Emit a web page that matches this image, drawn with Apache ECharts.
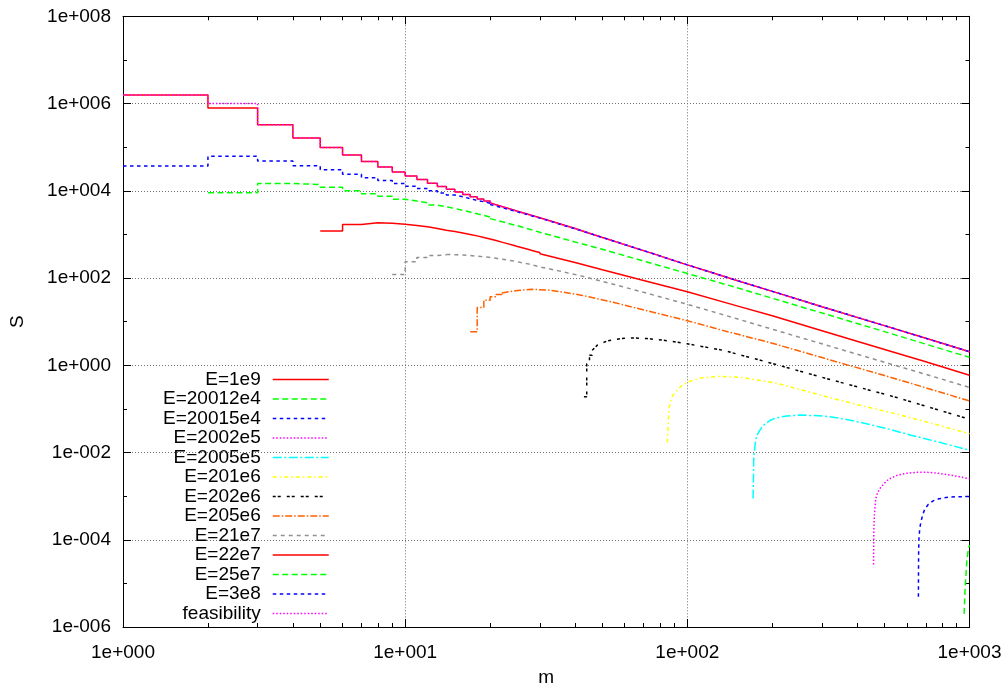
<!DOCTYPE html>
<html>
<head>
<meta charset="utf-8">
<script src="https://cdn.jsdelivr.net/npm/echarts@6/dist/echarts.min.js"></script>
<style>
html, body { margin: 0; padding: 0; background: #ffffff; }
#chart { width: 1008px; height: 692px; }
</style>
</head>
<body>
<div id="chart"></div>
<script>
// ---------- tick labels ----------
const xTickValues = [1, 10, 100, 1000];
const xTickLabels = ['1e+000', '1e+001', '1e+002', '1e+003'];
const xMinorTicks = [2, 3, 4, 5, 6, 7, 8, 9, 20, 30, 40, 50, 60, 70, 80, 90, 200, 300, 400, 500, 600, 700, 800, 900];
const yTickValues = [1e-6, 1e-4, 1e-2, 1, 1e2, 1e4, 1e6, 1e8];
const yTickLabels = ['1e-006', '1e-004', '1e-002', '1e+000', '1e+002', '1e+004', '1e+006', '1e+008'];

// ---------- series names (legend order) ----------
const seriesNames = ['E=1e9', 'E=20012e4', 'E=20015e4', 'E=2002e5', 'E=2005e5', 'E=201e6',
  'E=202e6', 'E=205e6', 'E=21e7', 'E=22e7', 'E=25e7', 'E=3e8', 'feasibility'];

// ---------- data: [m, S] ----------
const e1e9Steps = [[1,1.57e6],[2,7.9e5],[3,3.27e5],[4,1.63e5],[5,9.8e4],[6,6.6e4],[7,4.7e4],[8,3.5e4],[9,2.7e4],[10,2.19e4],[11,1.81e4],[12,1.49e4],[13,1.25e4],[14,1.08e4],[15,9.4e3],[16,8.2e3],[17,7.3e3],[18,6.5e3],[19,5.8e3],[20,5.25e3]];
const e1e9Curve = [[20,5.25e3],[25,3.4e3],[30,2.4e3],[40,1.36e3],[50,850],[70,425],[100,200],[150,88],[200,49.5],[300,22],[500,8.1],[700,4.15],[1000,2.05]];

const e20012e4Curve = [[957,2.0e-6],[965,7.7e-6],[978,3.1e-5],[991,6.4e-5],[1000,7.5e-5]];

const e20015e4Curve = [[659,4.95e-6],[660,4.4e-5],[662,1.1e-4],[667,1.9e-4],[673,2.6e-4],[684,3.9e-4],[695,5.1e-4],[715,6.5e-4],[743,7.8e-4],[780,8.7e-4],[826,9.3e-4],[900,9.7e-4],[1000,9.8e-4]];

const e2002e5Curve = [[457,2.7e-5],[458,1.5e-4],[460,3.6e-4],[465,8.5e-4],[472,1.2e-3],[484,1.57e-3],[500,2.0e-3],[517,2.43e-3],[550,2.95e-3],[594,3.33e-3],[661,3.55e-3],[720,3.5e-3],[781,3.33e-3],[880,2.95e-3],[1000,2.5e-3]];

const e2005e5Curve = [[171,8.8e-4],[172,8.0e-3],[174,0.016],[176,0.024],[181,0.033],[186,0.042],[197,0.055],[206,0.062],[225,0.069],[250,0.072],[293,0.070],[338,0.063],[400,0.051],[504,0.036],[620,0.025],[760,0.018],[1000,0.0113]];

const e201e6Curve = [[85,0.017],[86,0.10],[87,0.14],[88,0.18],[90,0.23],[95,0.33],[100,0.41],[111,0.51],[130,0.56],[158,0.52],[206,0.39],[250,0.28],[311,0.19],[400,0.125],[540,0.079],[750,0.045],[1000,0.027]];

const e202e6Steps = [[43,0.19],[44,1.09],[45,1.7],[46,2.2]];
const e202e6Curve = [[46,2.2],[48,2.9],[52,3.6],[58,4.1],[63,4.24],[72,4.1],[87,3.6],[100,3.1],[134,2.2],[200,1.1],[310,0.5],[540,0.19],[1000,0.058]];

const e205e6Steps = [[17,5.9],[18,21],[19,31],[20,37],[21,42],[22,45.5]];
const e205e6Curve = [[22,45.5],[25,52],[28,55],[32,53],[36,48],[42,40.5],[55,27.5],[72,17.8],[100,10.5],[140,5.8],[200,3.2],[300,1.5],[500,0.58],[700,0.305],[1000,0.152]];

const e21e7Steps = [[9,121],[10,235],[11,295],[12,328],[13,342],[14,346]];
const e21e7Curve = [[14,346],[16,339],[18.5,313],[21,283],[24,248],[27,214],[30,180],[35,146],[42,112],[50,84],[70,47],[100,25],[150,11.6],[200,6.7],[300,3.1],[500,1.17],[700,0.62],[1000,0.31]];

const e22e7Steps = [[5,1.2e3],[6,1.68e3],[7,1.84e3],[8,1.81e3],[9,1.7e3],[10,1.61e3],[11,1.49e3],[12,1.37e3],[13,1.25e3],[14,1.165e3],[15,1.08e3],[16,1.0e3],[17,925],[18,852],[19,785],[20,722],[21,665],[22,615],[23,570],[24,530],[25,495],[26,463],[27,433],[28,407],[29,383],[30,361]];
const e22e7Curve = [[30,361],[40,226],[50,155],[70,88],[100,48.5],[150,23],[200,13.6],[300,6.2],[500,2.31],[700,1.2],[1000,0.59]];

const e25e7Steps = [[2,9.0e3],[3,1.47e4],[4,1.39e4],[5,1.21e4],[6,1.0e4],[7,8.5e3],[8,7.5e3],[9,6.4e3],[10,5.8e3],[11,5.3e3],[12,4.7e3],[13,4.3e3],[14,3.93e3],[15,3.57e3],[16,3.25e3],[17,2.97e3],[18,2.72e3],[19,2.5e3],[20,2.3e3]];
const e25e7Curve = [[20,2.3e3],[25,1.58e3],[30,1.12e3],[40,670],[50,455],[70,245],[100,127],[150,60],[200,34.4],[300,15.8],[500,5.9],[700,3.05],[1000,1.52]];

const e3e8Steps = [[1,3.7e4],[2,6.2e4],[3,4.8e4],[4,3.75e4],[5,3.05e4],[6,2.4e4],[7,2.0e4],[8,1.71e4],[9,1.47e4],[10,1.27e4],[11,1.13e4],[12,1.0e4],[13,8.9e3],[14,8.0e3],[15,7.3e3],[16,6.6e3],[17,6.0e3],[18,5.6e3],[19,5.2e3],[20,4.85e3]];
const e3e8Curve = [[20,4.85e3],[25,3.3e3],[30,2.37e3],[40,1.35e3],[50,850],[70,425],[100,200],[150,88],[200,49.5],[300,22],[500,8.1],[700,4.15],[1000,2.05]];

const feasibilitySteps = [[1,1.57e6],[2,1.0e6],[3,3.27e5],[4,1.63e5],[5,9.8e4],[6,6.6e4],[7,4.7e4],[8,3.5e4],[9,2.7e4],[10,2.19e4],[11,1.81e4],[12,1.49e4],[13,1.25e4],[14,1.08e4],[15,9.4e3],[16,8.2e3],[17,7.3e3],[18,6.5e3],[19,5.8e3],[20,5.25e3]];
const feasibilityCurve = [[20,5.25e3],[25,3.4e3],[30,2.4e3],[40,1.36e3],[50,850],[70,425],[100,200],[150,88],[200,49.5],[300,22],[500,8.1],[700,4.15],[1000,2.05]];

// ---------- styles ----------
const styles = [
  { color: '#ff0000', dash: 'solid' },
  { color: '#00ff00', dash: [6, 3.5] },
  { color: '#0000ff', dash: [3.5, 3.5] },
  { color: '#ff00ff', dash: [1.5, 2] },
  { color: '#00ffff', dash: [9, 2.5, 2, 2.5] },
  { color: '#ffff00', dash: [4, 3, 1.5, 3] },
  { color: '#000000', dash: [3, 2, 3, 6] },
  { color: '#ff6000', dash: [7, 2, 1.5, 2] },
  { color: '#909090', dash: [4, 4] },
  { color: '#ff0000', dash: 'solid' },
  { color: '#00ff00', dash: [6, 3.5] },
  { color: '#0000ff', dash: [3.5, 3.5] },
  { color: '#ff00ff', dash: [1.5, 2] }
];
const parts = [
  [e1e9Steps, e1e9Curve], [null, e20012e4Curve], [null, e20015e4Curve], [null, e2002e5Curve],
  [null, e2005e5Curve], [null, e201e6Curve], [e202e6Steps, e202e6Curve], [e205e6Steps, e205e6Curve],
  [e21e7Steps, e21e7Curve], [e22e7Steps, e22e7Curve], [e25e7Steps, e25e7Curve], [e3e8Steps, e3e8Curve],
  [feasibilitySteps, feasibilityCurve]
];

const series = [];
seriesNames.forEach(function (name, i) {
  const st = styles[i];
  const base = {
    name: name, type: 'line', xAxisIndex: 0, yAxisIndex: 0,
    symbol: 'none', showSymbol: false, silent: true, animation: false,
    lineStyle: { color: st.color, width: 1.5, type: st.dash },
    itemStyle: { color: st.color }
  };
  if (parts[i][0]) series.push(Object.assign({}, base, { step: 'end', data: parts[i][0] }));
  series.push(Object.assign({}, base, { data: parts[i][1] }));
});

function lookup(values, labels) {
  return function (v) {
    for (let i = 0; i < values.length; i++) {
      if (Math.abs(Math.log10(values[i]) - Math.log10(v)) < 1e-6) return labels[i];
    }
    return '';
  };
}

const FONT = 'Liberation Sans, Arial, sans-serif';
const black = '#000000';
const gridStyle = { show: true, lineStyle: { color: '#707070', width: 1, type: [1, 2] } };

const option = {
  backgroundColor: '#ffffff',
  animation: false,
  grid: { left: 122, right: 38.5, top: 16.3, bottom: 59.7, containLabel: false },
  legend: {
    data: seriesNames,
    orient: 'vertical',
    align: 'right',
    left: 163,
    top: 370,
    padding: 0,
    itemWidth: 56,
    itemHeight: 14,
    itemGap: 0.5,
    selectedMode: false,
    itemStyle: { opacity: 0 },
    lineStyle: { width: 1.5 },
    textStyle: { fontFamily: FONT, fontSize: 19, color: black, lineHeight: 16, padding: [0, 7, 0, 0] }
  },
  xAxis: [
    {
      type: 'log', logBase: 10, min: 1, max: 1000, interval: 1, position: 'bottom',
      name: 'm', nameLocation: 'middle', nameGap: 41,
      nameTextStyle: { fontFamily: FONT, fontSize: 19, color: black },
      axisLine: { show: true, onZero: false, lineStyle: { color: black, width: 1 } },
      axisTick: { show: true, inside: true, length: 8, lineStyle: { color: black } },
      axisLabel: { show: true, margin: 16, fontFamily: FONT, fontSize: 19, color: black,
        showMinLabel: true, showMaxLabel: true, formatter: lookup(xTickValues, xTickLabels) },
      splitLine: gridStyle
    },
    {
      type: 'value', min: 0, max: 3, position: 'bottom',
      axisLine: { show: false, onZero: false },
      axisTick: { show: true, inside: true, length: 4, lineStyle: { color: black },
        customValues: xMinorTicks.map(function (v) { return Math.log10(v); }) },
      axisLabel: { show: false }, splitLine: { show: false }
    },
    {
      type: 'log', logBase: 10, min: 1, max: 1000, interval: 1, position: 'top',
      axisLine: { show: true, onZero: false, lineStyle: { color: black, width: 1 } },
      axisTick: { show: true, inside: true, length: 8, lineStyle: { color: black } },
      axisLabel: { show: false }, splitLine: { show: false }
    },
    {
      type: 'value', min: 0, max: 3, position: 'top',
      axisLine: { show: false, onZero: false },
      axisTick: { show: true, inside: true, length: 4, lineStyle: { color: black },
        customValues: xMinorTicks.map(function (v) { return Math.log10(v); }) },
      axisLabel: { show: false }, splitLine: { show: false }
    }
  ],
  yAxis: [
    {
      type: 'log', logBase: 10, min: 1e-6, max: 1e8, interval: 2, position: 'left',
      name: 'S', nameLocation: 'middle', nameGap: 96,
      nameTextStyle: { fontFamily: FONT, fontSize: 19, color: black },
      axisLine: { show: true, onZero: false, lineStyle: { color: black, width: 1 } },
      axisTick: { show: true, inside: true, length: 8, lineStyle: { color: black } },
      axisLabel: { show: true, margin: 12, fontFamily: FONT, fontSize: 19, color: black,
        showMinLabel: true, showMaxLabel: true, formatter: lookup(yTickValues, yTickLabels) },
      splitLine: gridStyle
    },
    {
      type: 'log', logBase: 10, min: 1e-6, max: 1e8, interval: 1, position: 'left',
      axisLine: { show: false, onZero: false },
      axisTick: { show: true, inside: true, length: 4, lineStyle: { color: black } },
      axisLabel: { show: false }, splitLine: { show: false }
    },
    {
      type: 'log', logBase: 10, min: 1e-6, max: 1e8, interval: 2, position: 'right',
      axisLine: { show: true, onZero: false, lineStyle: { color: black, width: 1 } },
      axisTick: { show: true, inside: true, length: 8, lineStyle: { color: black } },
      axisLabel: { show: false }, splitLine: { show: false }
    },
    {
      type: 'log', logBase: 10, min: 1e-6, max: 1e8, interval: 1, position: 'right',
      axisLine: { show: false, onZero: false },
      axisTick: { show: true, inside: true, length: 4, lineStyle: { color: black } },
      axisLabel: { show: false }, splitLine: { show: false }
    }
  ],
  series: series
};

const chart = echarts.init(document.getElementById('chart'), null, { renderer: 'canvas' });
chart.setOption(option);
</script>
</body>
</html>
